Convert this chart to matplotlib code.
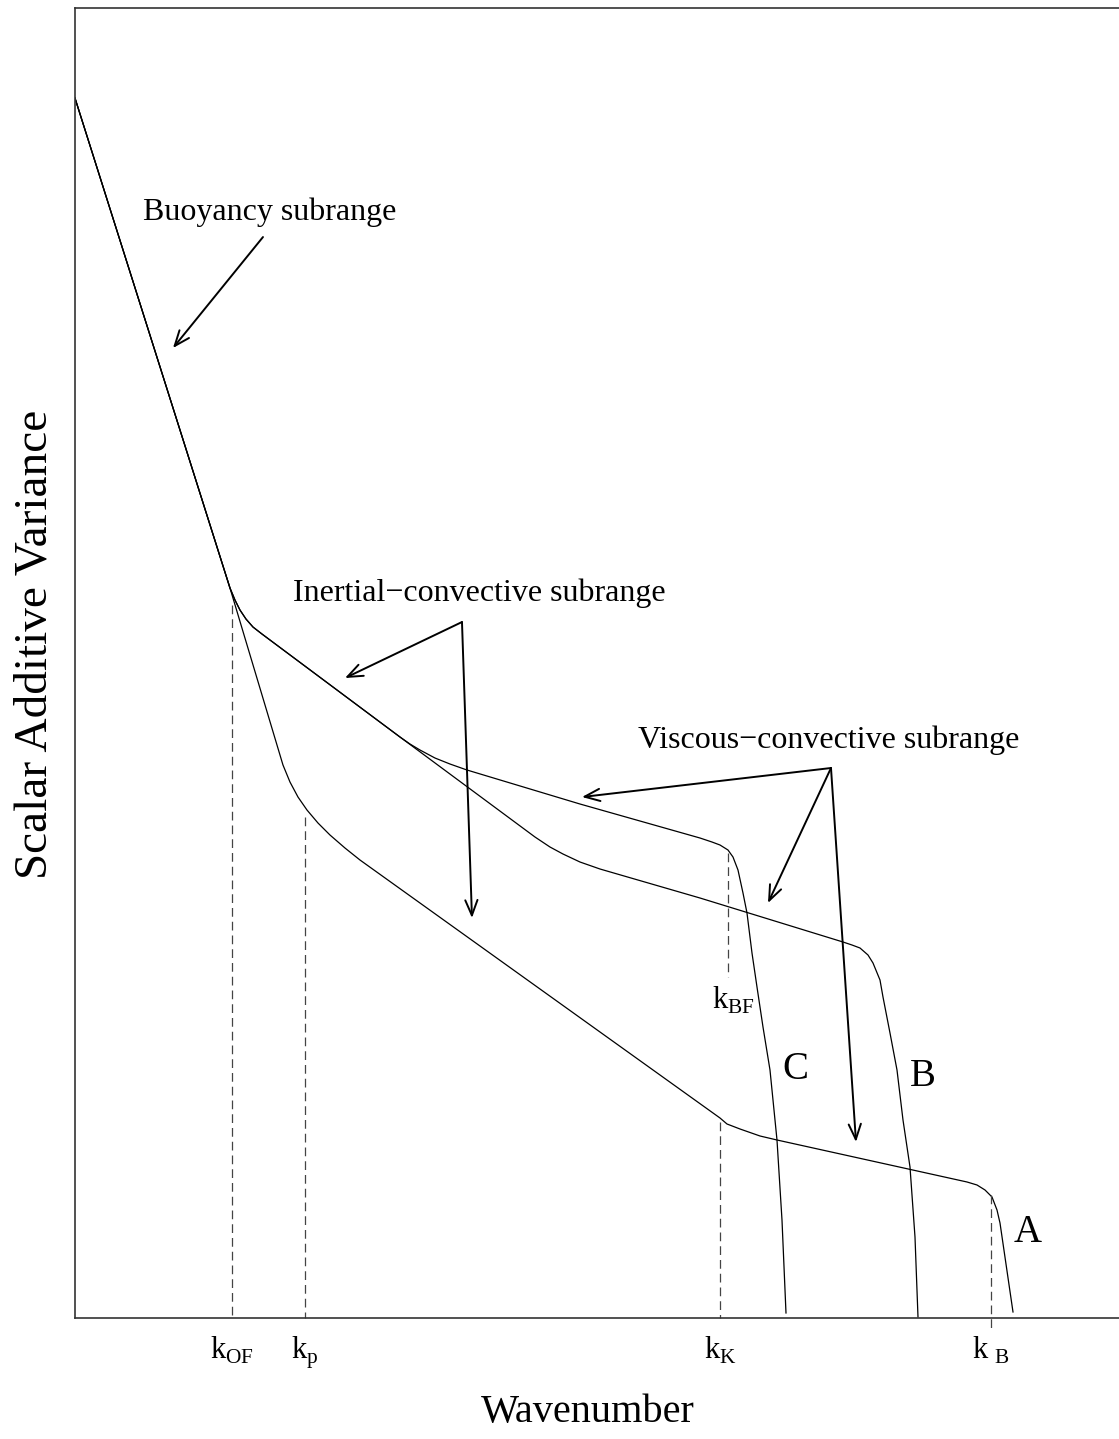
import matplotlib.pyplot as plt

plt.rcParams['font.family'] = ['Liberation Serif', 'DejaVu Serif']
plt.rcParams['mathtext.fontset'] = 'custom'
plt.rcParams['mathtext.rm'] = 'Liberation Serif'

# schematic spectra (arbitrary wavenumber / variance units)
a_k = [0, 155, 208, 215, 223, 232, 243, 255, 270, 285, 645, 652, 665, 685, 702,
       892, 902, 910, 917, 922, 925, 938]
a_var = [1220, 730, 553, 536, 521, 508, 495, 483, 470, 458, 200, 194, 189, 182, 178,
         136, 133, 128, 121, 108, 95, 6]

b_k = [0, 155, 160, 165, 171, 178, 187, 325, 460, 475, 488, 505, 525, 625, 768,
       777, 785, 793, 798, 805, 808, 815, 822, 828, 835, 840, 843]
b_var = [1220, 730, 718, 708, 699, 691, 684, 581, 481, 471, 464, 456, 449, 420, 376,
         373, 370, 363, 355, 338, 321, 285, 248, 198, 151, 81, 1]

c_k = [0, 155, 160, 165, 171, 178, 187, 325, 335, 345, 360, 375, 392, 505, 625,
       637, 645, 653, 658, 663, 668, 672, 677, 682, 688, 695, 702, 707, 711]
c_var = [1220, 730, 718, 708, 699, 691, 684, 581, 574, 568, 560, 554, 548, 514, 480,
         476, 473, 468, 461, 448, 425, 405, 365, 331, 291, 248, 178, 98, 5]

# characteristic wavenumbers
tick_k = [157, 230, 645, 916]
tick_labels = [r'$\mathrm{k}_{\mathrm{OF}}$', r'$\mathrm{k}_{\mathrm{p}}$',
               r'$\mathrm{k}_{\mathrm{K}}$', r'$\mathrm{k}_{\ \mathrm{B}}$']
marker_top = [713, 501, 196, 123]
marker_bottom = [0, 0, 0, -12]
kbf_k = 653
kbf_range = [465, 341]

fig = plt.figure(figsize=(11.19, 14.39), dpi=100)
ax = fig.add_axes([0.067, 0.0841, 0.933, 0.9103])
ax.set_xlim(0, 1044)
ax.set_ylim(0, 1310)

for k, v in [(a_k, a_var), (b_k, b_var), (c_k, c_var)]:
    ax.plot(k, v, color='black', lw=0.9)

for k, top, bot in zip(tick_k, marker_top, marker_bottom):
    ax.plot([k, k], [top, bot], color='#444444', lw=0.9, dashes=(7, 4), clip_on=False)
ax.plot([kbf_k, kbf_k], kbf_range, color='#444444', lw=0.9, dashes=(7, 4))
ax.text(658, 318, r'$\mathrm{k}_{\mathrm{BF}}$', fontsize=22, ha='center', va='center')

# curve names
ax.text(720, 248, 'C', fontsize=28, ha='center', va='center')
ax.text(848, 241, 'B', fontsize=28, ha='center', va='center')
ax.text(953, 85, 'A', fontsize=28, ha='center', va='center')

arrow = dict(arrowstyle='->,head_length=0.55,head_width=0.22', color='black',
             lw=1.4, shrinkA=0, shrinkB=0, mutation_scale=20)

ax.text(195, 1106, 'Buoyancy subrange', fontsize=23, ha='center', va='center')
ax.annotate('', xy=(98, 970), xytext=(188, 1081), arrowprops=arrow)

ax.text(404, 725, 'Inertial\u2212convective subrange', fontsize=23, ha='center', va='center')
for tip in [(270, 640), (397, 400)]:
    ax.annotate('', xy=tip, xytext=(387, 696), arrowprops=arrow)

ax.text(754, 578, 'Viscous\u2212convective subrange', fontsize=23, ha='center', va='center')
for tip in [(507, 521), (693, 415), (781, 176)]:
    ax.annotate('', xy=tip, xytext=(756, 550), arrowprops=arrow)

ax.set_xticks(tick_k)
ax.set_xticklabels(tick_labels, fontsize=22)
ax.tick_params(axis='x', length=0, pad=12)
ax.set_yticks([])

ax.set_xlabel('Wavenumber', fontsize=29, va='center')
ax.xaxis.set_label_coords(0.491, -0.0725)
ax.set_ylabel('Scalar Additive Variance', fontsize=34, va='center')
ax.yaxis.set_label_coords(-0.038, 0.514)

for side in ['left', 'top', 'bottom']:
    ax.spines[side].set_linewidth(1.2)
    ax.spines[side].set_color('#333333')
ax.spines['right'].set_visible(False)

fig.savefig('out.png', dpi=100)
